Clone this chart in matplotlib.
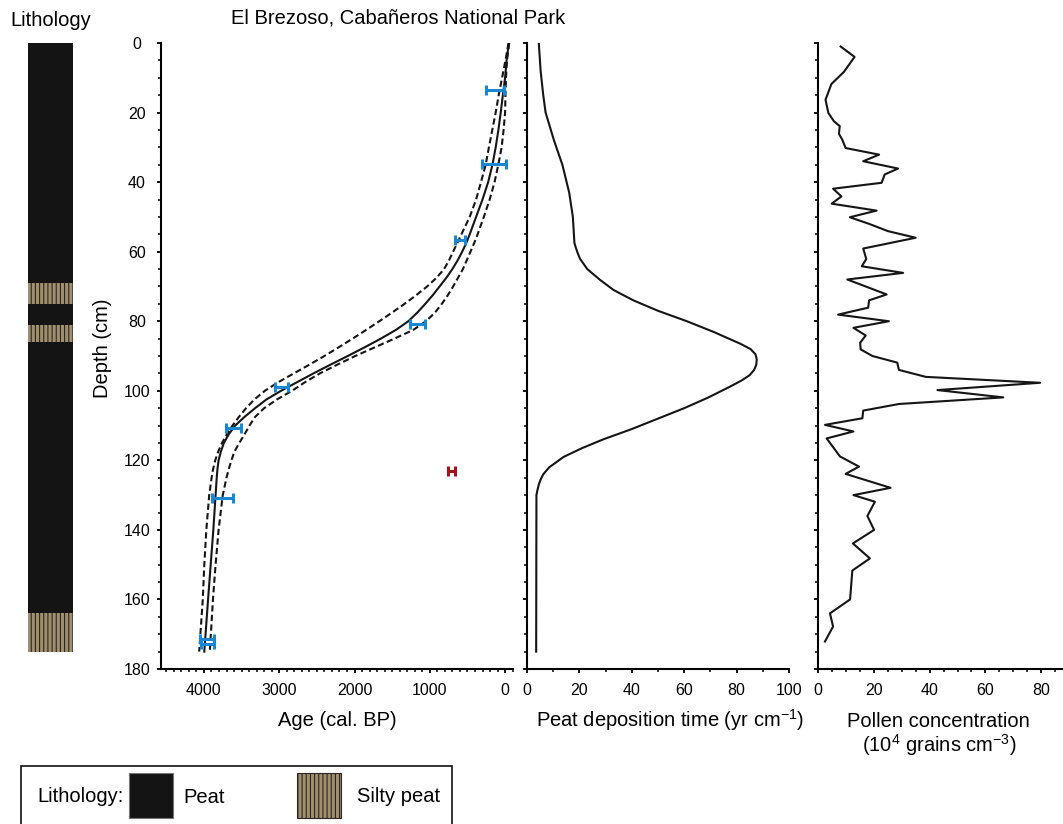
import numpy as np
import matplotlib
matplotlib.use('Agg')
import matplotlib.pyplot as plt
from matplotlib.patches import Rectangle
from matplotlib.ticker import MultipleLocator

plt.rcParams['font.family'] = ['Liberation Sans', 'DejaVu Sans']
plt.rcParams['mathtext.default'] = 'regular'
plt.rcParams['hatch.linewidth'] = 0.8

# ---- data ----
# lithology column (depth in cm)
litho_top = [0, 69, 75, 81, 86, 164]
litho_bottom = [69, 75, 81, 86, 164, 175]
litho_type = ['Peat', 'Silty peat', 'Peat', 'Silty peat', 'Peat', 'Silty peat']

# age-depth model (cal. BP) with its confidence envelope
model_depth = [0, 5, 10, 15, 20, 25, 30, 35, 40, 45, 50,
               55, 57.5, 60, 62.5, 65, 67.5, 70, 72.5, 75, 77.5,
               80, 82.5, 85, 87.5, 90, 92.5, 95, 97.5, 100, 102.5,
               105, 107.5, 110, 112.5, 115, 117.5, 120, 122.5, 125,
               130, 140, 150, 160, 175]
model_age = [-50, -20, 0, 30, 58, 89, 125, 168, 225, 300, 385,
             470, 515, 570, 630, 700, 780, 870, 960, 1060, 1165,
             1285, 1450, 1650, 1865, 2090, 2320, 2545, 2760, 2975, 3170,
             3320, 3460, 3585, 3670, 3735, 3775, 3805, 3820, 3830,
             3845, 3875, 3910, 3945, 3995]
model_old = [-45, -5, 40, 85, 125, 170, 215, 258, 320, 385, 470,
             580, 635, 690, 745, 810, 910, 1035, 1180, 1335, 1500,
             1670, 1845, 2025, 2210, 2400, 2600, 2805, 3010, 3190, 3330,
             3440, 3535, 3620, 3695, 3760, 3810, 3850, 3878, 3898,
             3930, 3968, 3995, 4015, 4063]
model_young = [-55, -25, -12, -5, 0, 20, 46, 90, 140, 205, 282,
               365, 410, 460, 510, 560, 625, 690, 760, 840, 930,
               1050, 1220, 1470, 1730, 1990, 2230, 2460, 2655, 2830, 3030,
               3200, 3320, 3395, 3460, 3530, 3595, 3635, 3670, 3700,
               3750, 3805, 3845, 3880, 3922]

# calibrated dates
date_depth = [13.6, 34.9, 56.6, 80.8, 98.8, 110.8, 130.9, 171.5, 172.8]
date_age = [130, 150, 595, 1163, 2970, 3610, 3756, 3962, 3955]
date_err = [120, 160, 66, 100, 82, 98, 137, 91, 85]
outlier_depth = [123]
outlier_age = [707]
outlier_err = [47]

# peat deposition time (yr cm-1)
peat_depth = [0, 8, 15, 20, 28, 35, 43, 50, 55, 57.5, 59, 60.5, 62, 65, 68, 71,
              74, 77, 80, 83, 85, 86.5, 88, 89.5, 91, 92.5, 94, 95.5, 97, 99,
              102, 105, 108, 111, 114, 116.5, 119, 122, 124, 125.5, 127, 128.5,
              130, 175]
peat_time = [4.5, 5.2, 6.2, 7.1, 10.3, 13.5, 16.1, 17.5, 17.9, 18.1, 18.7, 19.4,
             20.2, 23, 27.7, 33, 40.6, 50, 61, 71, 77, 81.5, 85.3, 87.2, 87.7,
             87.5, 86.7, 85, 82, 77, 69, 60, 50, 40, 29, 21, 14, 8.5, 6.2, 5.2,
             4.5, 4.0, 3.6, 3.5]

# pollen concentration (10^4 grains cm-3)
pollen_depth = [1.0, 4.0, 8.3, 11.8, 16.3, 20.1, 22.5, 23.9, 26.1, 27.8, 30.2,
                32.1, 34.0, 36.1, 37.8, 40.2, 41.9, 44.1, 46.2, 48.2, 50.1, 52.0,
                54.1, 56.0, 59.1, 62.1, 64.2, 66.1, 68.0, 72.3, 74.0, 76.1, 78.1,
                80.0, 81.9, 84.1, 86.2, 88.1, 90.0, 91.9, 94.0, 96.0, 97.7, 99.8,
                101.9, 103.8, 105.7, 107.9, 109.8, 111.7, 113.7, 118.9, 121.8,
                123.9, 127.9, 130.0, 131.9, 136.0, 140.0, 143.9, 148.2, 151.7,
                160.0, 164.0, 167.8, 172.1]
pollen_conc = [8.1, 13.1, 9.3, 4.8, 2.7, 3.7, 5.7, 7.8, 7.5, 8.7, 9.9, 21.9, 16.2,
               28.7, 23.9, 22.8, 5.4, 8.4, 4.9, 21.0, 11.4, 18.3, 25.1, 35.0, 16.2,
               17.3, 15.7, 30.5, 10.5, 24.6, 18.3, 18.0, 7.2, 25.4, 12.7, 17.1,
               15.1, 15.3, 19.5, 28.4, 29.0, 38.6, 79.6, 42.8, 66.4, 29.0, 16.2,
               15.9, 2.5, 12.7, 3.1, 7.9, 14.7, 9.9, 26.0, 12.7, 20.4, 17.7, 20.1,
               12.5, 18.6, 12.3, 11.5, 4.3, 5.4, 2.5]

PEAT_COLOR = '#141414'
SILT_COLOR = '#a08f6e'
BAR_COLOR = '#1b86d2'
RED_COLOR = '#a3141b'

W, H = 1063, 824
fig = plt.figure(figsize=(W / 100, H / 100), dpi=100)


def px_axes(x0, y0, x1, y1):
    return fig.add_axes([x0 / W, 1 - y1 / H, (x1 - x0) / W, (y1 - y0) / H])


def fx(x):
    return x / W


def fy(y):
    return 1 - y / H


def style_axis(ax):
    for side in ('top', 'right'):
        ax.spines[side].set_visible(False)
    for side in ('left', 'bottom'):
        ax.spines[side].set_linewidth(1.5)
    ax.tick_params(which='major', direction='out', length=3, width=1.3,
                   labelsize=11.5, pad=7)
    ax.tick_params(which='minor', direction='out', length=2, width=1.1)
    ax.set_ylim(180, 0)
    ax.yaxis.set_major_locator(MultipleLocator(20))
    ax.yaxis.set_minor_locator(MultipleLocator(5))


# lithology column
ax_l = px_axes(28, 43, 73, 669)
ax_l.set_xlim(0, 1)
ax_l.set_ylim(180, 0)
ax_l.axis('off')
for top, bot, kind in zip(litho_top, litho_bottom, litho_type):
    if kind == 'Peat':
        ax_l.barh((top + bot) / 2, 1, height=bot - top, left=0,
                  color=PEAT_COLOR, edgecolor='none')
    else:
        ax_l.barh((top + bot) / 2, 1, height=bot - top, left=0,
                  facecolor=SILT_COLOR, edgecolor='#2a2620', hatch='||||', lw=0)

# age-depth model
ax = px_axes(161, 43, 513, 669)
style_axis(ax)
ax.set_xlim(4570, -105)
ax.xaxis.set_major_locator(MultipleLocator(1000))
ax.xaxis.set_minor_locator(MultipleLocator(100))
ax.tick_params(axis='y', which='major', pad=14.5)
for lab in ax.get_yticklabels():
    lab.set_horizontalalignment('center')
ax.plot(model_old, model_depth, color='#151515', lw=1.5, ls=(0, (3, 1.6)))
ax.plot(model_young, model_depth, color='#151515', lw=1.5, ls=(0, (3, 1.6)))
ax.plot(model_age, model_depth, color='#151515', lw=1.5)
ax.errorbar(date_age, date_depth, xerr=date_err, fmt='none', ecolor=BAR_COLOR,
            elinewidth=2.2, capsize=3.5, capthick=2.2)
ax.errorbar(outlier_age, outlier_depth, xerr=outlier_err, fmt='none',
            ecolor=RED_COLOR, elinewidth=2.2, capsize=3.5, capthick=2.2)

# peat deposition time
ax_p = px_axes(527, 43, 789, 669)
style_axis(ax_p)
ax_p.set_xlim(0, 100)
ax_p.xaxis.set_major_locator(MultipleLocator(20))
ax_p.xaxis.set_minor_locator(MultipleLocator(10))
ax_p.set_yticklabels([])
ax_p.plot(peat_time, peat_depth, color='#151515', lw=1.5)

# pollen concentration
ax_c = px_axes(818, 43, 1063, 669)
style_axis(ax_c)
ax_c.set_xlim(0, 87.8)
ax_c.xaxis.set_major_locator(MultipleLocator(20))
ax_c.xaxis.set_minor_locator(MultipleLocator(5))
ax_c.set_yticklabels([])
ax_c.plot(pollen_conc, pollen_depth, color='#151515', lw=1.5)

# texts
FS = 14.5
fig.text(fx(398), fy(24), 'El Brezoso, Cabañeros National Park', fontsize=FS,
         ha='center', va='baseline')
fig.text(fx(51), fy(26), 'Lithology', fontsize=FS, ha='center', va='baseline')
fig.text(fx(102), fy(348), 'Depth (cm)', fontsize=FS, ha='center', va='center',
         rotation=90)
fig.text(fx(337), fy(726), 'Age (cal. BP)', fontsize=FS, ha='center',
         va='baseline')
fig.text(fx(670), fy(727), 'Peat deposition time (yr cm$^{-1}$)', fontsize=FS,
         ha='center', va='baseline')
fig.text(fx(938), fy(727), 'Pollen concentration', fontsize=FS, ha='center',
         va='baseline')
fig.text(fx(939), fy(752), '(10$^{4}$ grains cm$^{-3}$)', fontsize=FS,
         ha='center', va='baseline')

# lithology legend box
fig.add_artist(Rectangle((fx(21), fy(840)), (452 - 21) / W, (840 - 766) / H,
                         transform=fig.transFigure, fill=False, lw=1.2,
                         edgecolor='#111111', clip_on=False))
fig.add_artist(Rectangle((fx(129), fy(818)), 44 / W, 45 / H,
                         transform=fig.transFigure, facecolor=PEAT_COLOR,
                         edgecolor='#777777', lw=0.8))
fig.add_artist(Rectangle((fx(297), fy(818)), 44 / W, 45 / H,
                         transform=fig.transFigure, facecolor=SILT_COLOR,
                         edgecolor='#2a2620', hatch='||||', lw=0.8))
fig.text(fx(37), fy(802), 'Lithology:', fontsize=FS, ha='left', va='baseline')
fig.text(fx(183), fy(803), 'Peat', fontsize=FS, ha='left', va='baseline')
fig.text(fx(357), fy(802), 'Silty peat', fontsize=FS, ha='left', va='baseline')

fig.savefig('out.png', dpi=100)
